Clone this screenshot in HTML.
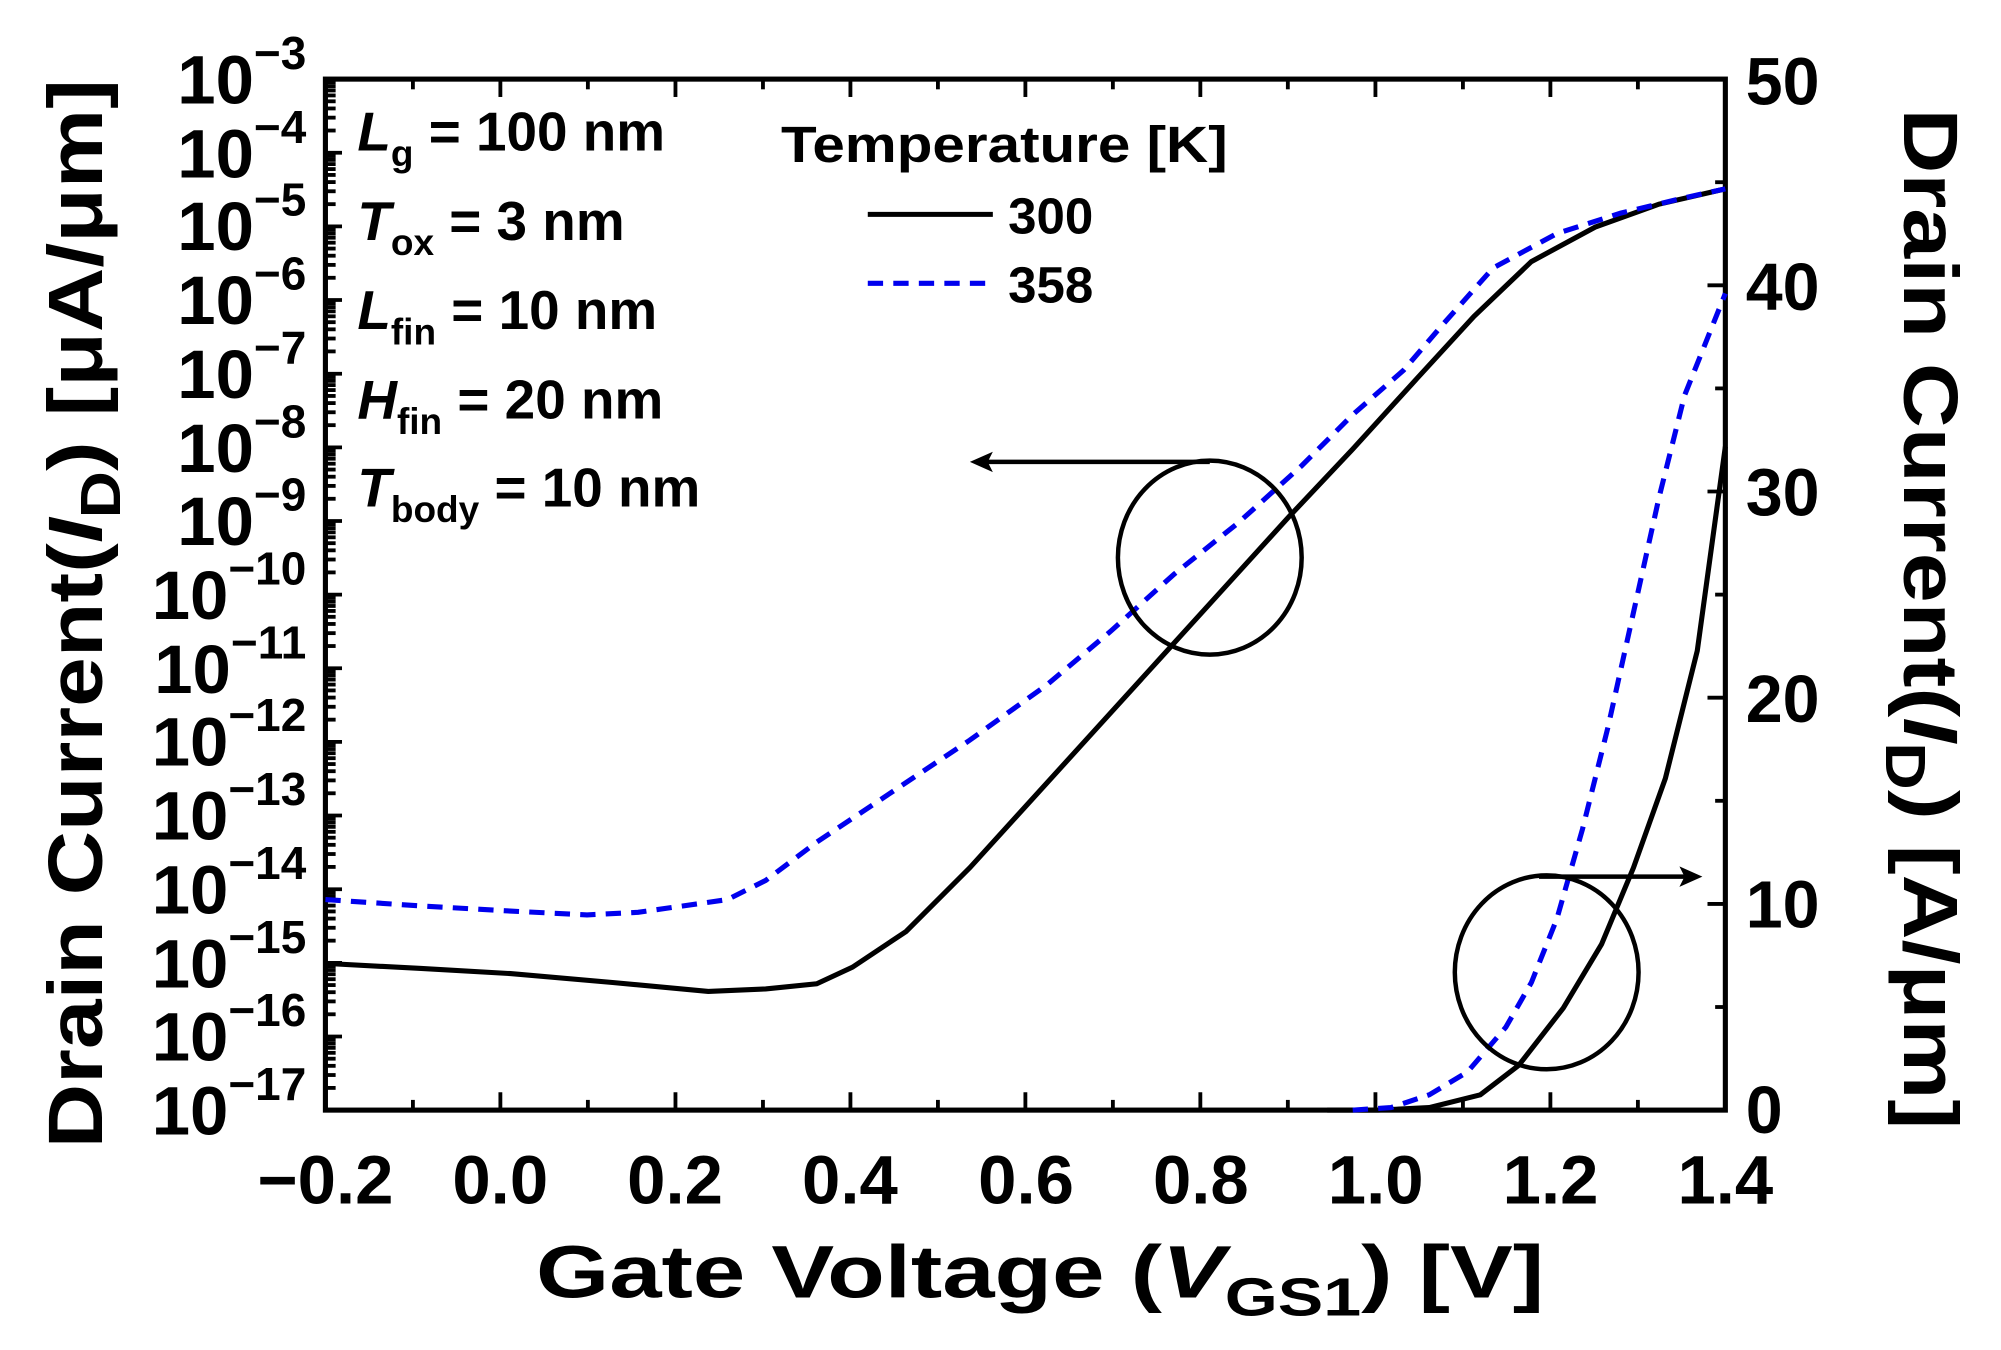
<!DOCTYPE html>
<html><head><meta charset="utf-8"><style>
html,body{margin:0;padding:0;background:#fff;}
svg{display:block;}
text{font-family:"Liberation Sans",Arial,sans-serif;font-weight:bold;fill:#000;}
</style></head><body>
<svg width="2001" height="1350" viewBox="0 0 1568 1058" preserveAspectRatio="none" xmlns="http://www.w3.org/2000/svg">
<rect width="1568" height="1058" fill="#fff"/>
<defs>
<g id="dec" stroke="#000" stroke-width="3">
<line x1="255" y1="0" x2="268" y2="0"/>
<line x1="255" y1="40.3" x2="263" y2="40.3"/>
<line x1="255" y1="30.2" x2="263" y2="30.2"/>
<line x1="255" y1="23" x2="263" y2="23"/>
<line x1="255" y1="17.4" x2="263" y2="17.4"/>
<line x1="255" y1="12.8" x2="263" y2="12.8"/>
<line x1="255" y1="8.9" x2="263" y2="8.9"/>
<line x1="255" y1="5.6" x2="263" y2="5.6"/>
<line x1="255" y1="2.6" x2="263" y2="2.6"/>
</g>
<g id="xt" stroke="#000" stroke-width="3">
<line x1="0" y1="870" x2="0" y2="856"/><line x1="0" y1="62" x2="0" y2="76"/>
<line x1="68.56" y1="870" x2="68.56" y2="862"/><line x1="68.56" y1="62" x2="68.56" y2="70"/>
</g>
</defs>
<use href="#xt" transform="translate(255,0)"/>
<use href="#xt" transform="translate(392.1,0)"/>
<use href="#xt" transform="translate(529.3,0)"/>
<use href="#xt" transform="translate(666.4,0)"/>
<use href="#xt" transform="translate(803.5,0)"/>
<use href="#xt" transform="translate(940.6,0)"/>
<use href="#xt" transform="translate(1077.8,0)"/>
<use href="#xt" transform="translate(1214.9,0)"/>
<use href="#dec" transform="translate(0,62)"/>
<use href="#dec" transform="translate(0,119.7)"/>
<use href="#dec" transform="translate(0,177.4)"/>
<use href="#dec" transform="translate(0,235.1)"/>
<use href="#dec" transform="translate(0,292.9)"/>
<use href="#dec" transform="translate(0,350.6)"/>
<use href="#dec" transform="translate(0,408.3)"/>
<use href="#dec" transform="translate(0,466)"/>
<use href="#dec" transform="translate(0,523.7)"/>
<use href="#dec" transform="translate(0,581.4)"/>
<use href="#dec" transform="translate(0,639.1)"/>
<use href="#dec" transform="translate(0,696.9)"/>
<use href="#dec" transform="translate(0,754.6)"/>
<use href="#dec" transform="translate(0,812.3)"/>
<g stroke="#000" stroke-width="3">
<line x1="1352" y1="789.2" x2="1344" y2="789.2"/>
<line x1="1352" y1="708.4" x2="1338" y2="708.4"/>
<line x1="1352" y1="627.6" x2="1344" y2="627.6"/>
<line x1="1352" y1="546.8" x2="1338" y2="546.8"/>
<line x1="1352" y1="466" x2="1344" y2="466"/>
<line x1="1352" y1="385.2" x2="1338" y2="385.2"/>
<line x1="1352" y1="304.4" x2="1344" y2="304.4"/>
<line x1="1352" y1="223.6" x2="1338" y2="223.6"/>
<line x1="1352" y1="142.8" x2="1344" y2="142.8"/>
</g>
<rect x="255" y="62" width="1097" height="808" fill="none" stroke="#000" stroke-width="4"/>
<!-- curves -->
<polyline fill="none" stroke="#000" stroke-width="4" points="255,755 330,759 400,763 480,770 555,777 600,775 640,771 668,758 710,730 760,680 810,625 860,570 910,515 960,460 1010,405 1060,352 1110,297 1155,248 1200,205 1250,178 1300,160 1352,148"/>
<polyline fill="none" stroke="#0000ee" stroke-width="4" stroke-dasharray="12,8" points="255,705 330,710 400,714 460,717 500,715 570,705 600,690 640,660 700,620 760,580 820,537 870,495 920,450 970,410 1020,365 1060,325 1100,290 1130,255 1170,210 1220,183 1270,167 1320,155 1352,148"/>
<polyline fill="none" stroke="#000" stroke-width="4" points="1040,870 1080,870 1120,868 1160,858 1190,835 1225,790 1255,740 1280,680 1305,610 1330,510 1352,350"/>
<polyline fill="none" stroke="#0000ee" stroke-width="4" stroke-dasharray="12,8" points="1060,870 1090,868 1120,858 1150,840 1180,805 1200,770 1220,720 1240,650 1260,570 1280,480 1300,390 1320,310 1340,260 1352,230"/>
<!-- annotations -->
<ellipse cx="948" cy="437" rx="72" ry="76" fill="none" stroke="#000" stroke-width="3.5"/>
<line x1="948" y1="362" x2="768" y2="362" stroke="#000" stroke-width="3.5"/>
<polygon points="760,362 778,354 774,362 778,370" fill="#000"/>
<ellipse cx="1212" cy="762" rx="72" ry="76" fill="none" stroke="#000" stroke-width="3.5"/>
<line x1="1206" y1="687" x2="1325" y2="687" stroke="#000" stroke-width="3.5"/>
<polygon points="1334,687 1316,679 1320,687 1316,695" fill="#000"/>
<!-- legend -->
<text x="612" y="127" font-size="40" textLength="350" lengthAdjust="spacingAndGlyphs">Temperature [K]</text>
<line x1="680" y1="168" x2="778" y2="168" stroke="#000" stroke-width="4"/>
<text x="790" y="183" font-size="40">300</text>
<line x1="680" y1="222" x2="778" y2="222" stroke="#0000ee" stroke-width="4" stroke-dasharray="12,8"/>
<text x="790" y="237" font-size="40">358</text>
<!-- params -->
<g font-size="43">
<text x="280" y="118"><tspan font-style="italic">L</tspan><tspan font-size="29" dy="12">g</tspan><tspan dy="-12"> = 100 nm</tspan></text>
<text x="280" y="188"><tspan font-style="italic">T</tspan><tspan font-size="29" dy="12">ox</tspan><tspan dy="-12"> = 3 nm</tspan></text>
<text x="280" y="258"><tspan font-style="italic">L</tspan><tspan font-size="29" dy="12">fin</tspan><tspan dy="-12"> = 10 nm</tspan></text>
<text x="280" y="328"><tspan font-style="italic">H</tspan><tspan font-size="29" dy="12">fin</tspan><tspan dy="-12"> = 20 nm</tspan></text>
<text x="280" y="397"><tspan font-style="italic">T</tspan><tspan font-size="29" dy="12">body</tspan><tspan dy="-12"> = 10 nm</tspan></text>
</g>
<!-- x tick labels -->
<g font-size="54" text-anchor="middle">
<text x="255" y="943">−0.2</text><text x="392" y="943">0.0</text><text x="529" y="943">0.2</text><text x="666" y="943">0.4</text><text x="804" y="943">0.6</text><text x="941" y="943">0.8</text><text x="1078" y="943">1.0</text><text x="1215" y="943">1.2</text><text x="1352" y="943">1.4</text>
</g>
<text x="815" y="1017" font-size="58" text-anchor="middle" textLength="790" lengthAdjust="spacingAndGlyphs">Gate Voltage (<tspan font-style="italic">V</tspan><tspan font-size="42" dy="14">GS1</tspan><tspan dy="-14">) [V]</tspan></text>
<!-- left y labels -->
<g font-size="54" text-anchor="end">
<text x="240" y="81">10<tspan font-size="36" dy="-27">−3</tspan></text>
<text x="240" y="139">10<tspan font-size="36" dy="-27">−4</tspan></text>
<text x="240" y="196">10<tspan font-size="36" dy="-27">−5</tspan></text>
<text x="240" y="254">10<tspan font-size="36" dy="-27">−6</tspan></text>
<text x="240" y="312">10<tspan font-size="36" dy="-27">−7</tspan></text>
<text x="240" y="370">10<tspan font-size="36" dy="-27">−8</tspan></text>
<text x="240" y="427">10<tspan font-size="36" dy="-27">−9</tspan></text>
<text x="240" y="485">10<tspan font-size="36" dy="-27">−10</tspan></text>
<text x="240" y="543">10<tspan font-size="36" dy="-27">−11</tspan></text>
<text x="240" y="600">10<tspan font-size="36" dy="-27">−12</tspan></text>
<text x="240" y="658">10<tspan font-size="36" dy="-27">−13</tspan></text>
<text x="240" y="716">10<tspan font-size="36" dy="-27">−14</tspan></text>
<text x="240" y="774">10<tspan font-size="36" dy="-27">−15</tspan></text>
<text x="240" y="831">10<tspan font-size="36" dy="-27">−16</tspan></text>
<text x="240" y="889">10<tspan font-size="36" dy="-27">−17</tspan></text>
</g>
<!-- right y labels -->
<g font-size="52" text-anchor="start">
<text x="1368" y="888">0</text><text x="1368" y="727">10</text><text x="1368" y="566">20</text><text x="1368" y="404">30</text><text x="1368" y="243">40</text><text x="1368" y="82">50</text>
</g>
<text transform="translate(80,481) rotate(-90)" font-size="60" text-anchor="middle" textLength="838" lengthAdjust="spacingAndGlyphs">Drain Current(<tspan font-style="italic">I</tspan><tspan font-size="44" dy="14">D</tspan><tspan dy="-14">) [μA/μm]</tspan></text>
<text transform="translate(1492,485) rotate(90)" font-size="60" text-anchor="middle" textLength="800" lengthAdjust="spacingAndGlyphs">Drain Current(<tspan font-style="italic">I</tspan><tspan font-size="44" dy="14">D</tspan><tspan dy="-14">) [A/μm]</tspan></text>
</svg>
</body></html>
